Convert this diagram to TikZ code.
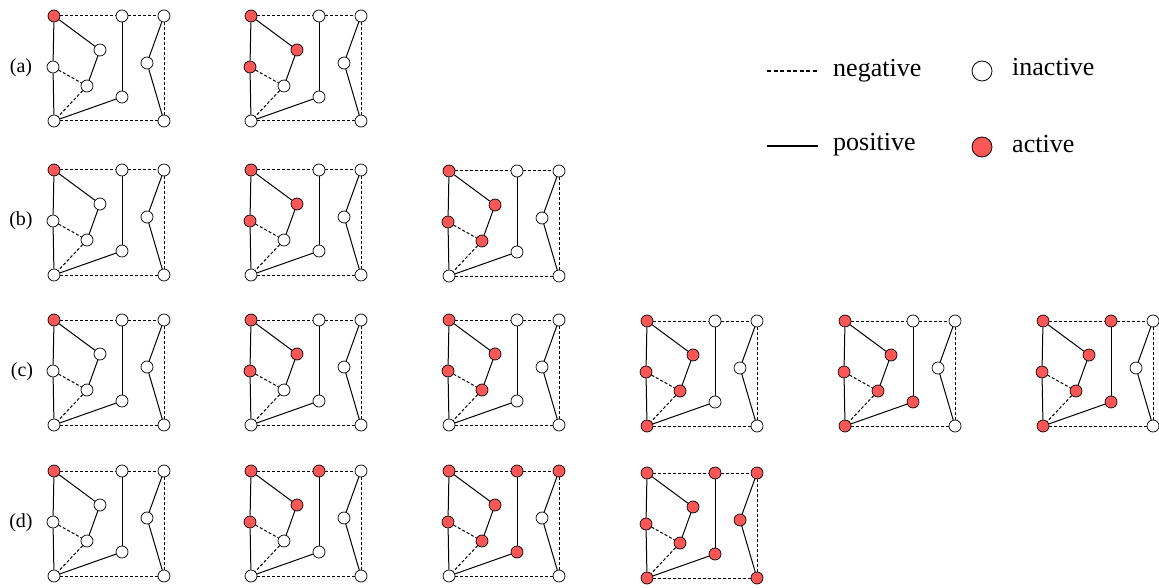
\documentclass[tikz,border=0pt]{standalone}
\usepackage{fontspec}
\setmainfont{Liberation Serif}
\definecolor{actred}{RGB}{252,86,86}
\tikzset{
  x=1pt, y=-1pt,
  vtx/.style={circle, draw=black, line width=0.7pt, minimum size=12pt, inner sep=0pt},
  inact/.style={fill=white},
  act/.style={fill=actred},
  actv/.style={n#1/.style=act},
  posedge/.style={line width=1pt},
  negedge/.style={line width=1pt, dash pattern=on 3pt off 2pt},
  lbl/.style={font=\fontsize{20}{24}\selectfont, inner sep=0pt},
  leg/.style={font=\fontsize{26}{30}\selectfont, inner sep=0pt, anchor=base west},
}
\newcommand{\gpanel}[4]{%
\begin{scope}[shift={(#2,#3)},
  nA/.style=inact, nB/.style=inact, nC/.style=inact, nD/.style=inact, nE/.style=inact,
  nF/.style=inact, nG/.style=inact, nH/.style=inact, nI/.style=inact, nJ/.style=inact, #4]
\node[vtx,nA] (#1A) at (0,0) {};
\node[vtx,nB] (#1B) at (68,0) {};
\node[vtx,nC] (#1C) at (110,0) {};
\node[vtx,nD] (#1D) at (46,34) {};
\node[vtx,nE] (#1E) at (-1,51) {};
\node[vtx,nF] (#1F) at (33,70) {};
\node[vtx,nG] (#1G) at (68,81) {};
\node[vtx,nH] (#1H) at (93,47) {};
\node[vtx,nI] (#1I) at (0,105) {};
\node[vtx,nJ] (#1J) at (110,105) {};
\draw[negedge] (#1A) -- (#1B);
\draw[negedge] (#1B) -- (#1C);
\draw[negedge] (#1E) -- (#1F);
\draw[negedge] (#1F) -- (#1I);
\draw[negedge] (#1I) -- (#1J);
\draw[negedge] (#1C) -- (#1J);
\draw[posedge] (#1A) -- (#1D);
\draw[posedge] (#1D) -- (#1F);
\draw[posedge] (#1A) -- (#1E);
\draw[posedge] (#1E) -- (#1I);
\draw[posedge] (#1I) -- (#1G);
\draw[posedge] (#1G) -- (#1B);
\draw[posedge] (#1C) -- (#1H);
\draw[posedge] (#1H) -- (#1J);
\end{scope}}
\begin{document}
\begin{tikzpicture}
\useasboundingbox (0,0) rectangle (1159,588);
% row labels
\node[lbl] (la) at (21,68) {(a)};
\node[lbl] (lb) at (21,221) {(b)};
\node[lbl] (lc) at (22,372) {(c)};
\node[lbl] (ld) at (21,523) {(d)};
% row a
\gpanel{aa}{54}{16}{actv/.list={A}}
\gpanel{ab}{251}{16}{actv/.list={A,D,E}}
% row b
\gpanel{ba}{54}{170}{actv/.list={A}}
\gpanel{bb}{251}{170}{actv/.list={A,D,E}}
\gpanel{bc}{449}{171}{actv/.list={A,D,E,F}}
% row c
\gpanel{ca}{54}{320}{actv/.list={A}}
\gpanel{cb}{251}{320}{actv/.list={A,D,E}}
\gpanel{cc}{449}{320}{actv/.list={A,D,E,F}}
\gpanel{cd}{647}{321}{actv/.list={A,D,E,F,I}}
\gpanel{ce}{845}{321}{actv/.list={A,D,E,F,I,G}}
\gpanel{cf}{1043}{321}{actv/.list={A,B,D,E,F,I,G}}
% row d
\gpanel{da}{54}{471}{actv/.list={A}}
\gpanel{db}{251}{471}{actv/.list={A,B,D,E}}
\gpanel{dc}{449}{471}{actv/.list={A,B,C,D,E,F,G}}
\gpanel{dd}{647}{473}{actv/.list={A,B,C,D,E,F,G,H,I,J}}
% legend
\coordinate (n1) at (767,71);
\coordinate (n2) at (818,71);
\draw[line width=1.1pt, dash pattern=on 4pt off 2.5pt] (n1) -- (n2);
\coordinate (p1) at (767,146);
\coordinate (p2) at (818,146);
\draw[line width=2pt] (p1) -- (p2);
\node[leg] (tneg) at (833,77) {negative};
\node[leg] (tpos) at (833,151) {positive};
\node[circle, draw=black, line width=0.8pt, minimum size=20pt, inner sep=0pt, fill=white] (cin) at (982,71) {};
\node[circle, draw=black, line width=0.8pt, minimum size=20pt, inner sep=0pt, fill=actred] (cac) at (982,147) {};
\node[leg] (tin) at (1012,76) {inactive};
\node[leg] (tac) at (1012,153) {active};
\end{tikzpicture}
\end{document}
